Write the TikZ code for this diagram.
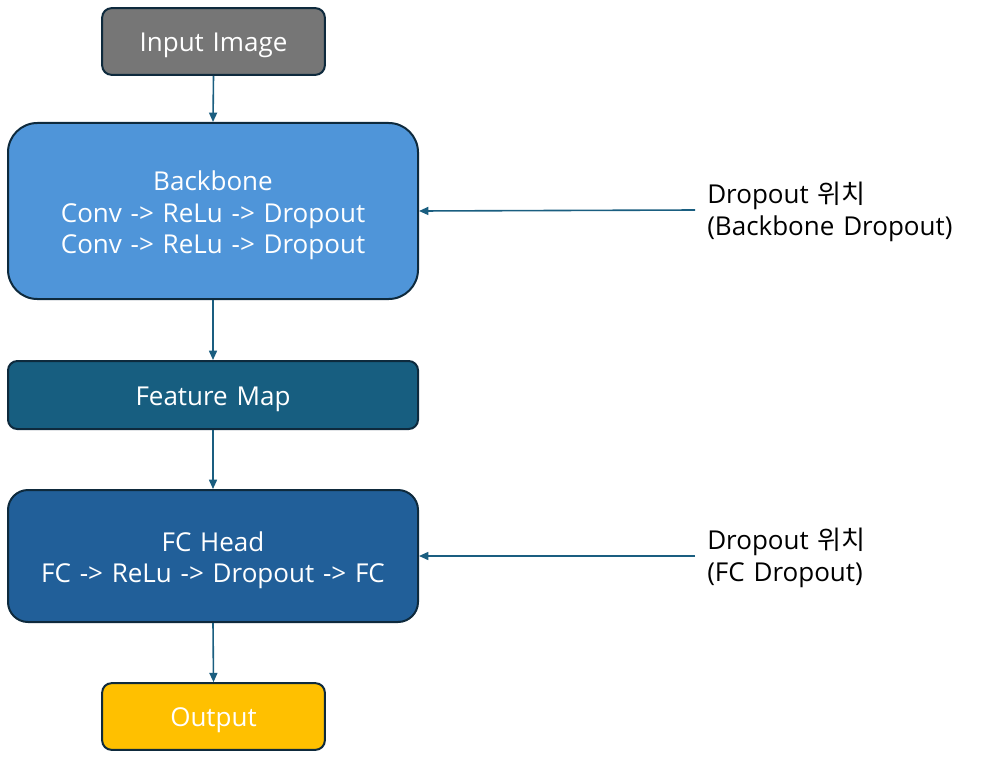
\documentclass[tikz,border=0pt]{standalone}
\usepackage{fontspec}
\setmainfont[WordSpace=1.3]{Open Sans}
\newfontfamily\kr{Noto Sans CJK KR}
\usetikzlibrary{arrows.meta}
\definecolor{bordc}{HTML}{0E2A3D}
\definecolor{arrc}{HTML}{1A5E80}
\definecolor{grayf}{HTML}{767676}
\definecolor{bbf}{HTML}{4F95D9}
\definecolor{fmf}{HTML}{175E80}
\definecolor{fcf}{HTML}{215F99}
\definecolor{outf}{HTML}{FFC000}
\tikzset{
  blk/.style={draw=bordc, line width=1.5pt, inner sep=0pt},
  txt/.style={text=white, align=center, inner sep=0pt, font=\fontsize{19.5}{23.6}\selectfont},
  arr/.style={draw=arrc, line width=1.2pt, -{Triangle[length=7pt,width=6pt]}},
  lbl/.style={anchor=west, align=left, inner sep=0pt, font=\fontsize{19.5}{23.6}\selectfont}
}
\begin{document}
\begin{tikzpicture}[x=0.75pt,y=-0.75pt]
\useasboundingbox (0,0) rectangle (994,781);
\node[blk, fill=grayf, minimum width=167pt, minimum height=50pt, rounded corners=7pt] (inp) at (213.5,41.5) {};
\node[blk, fill=bbf, minimum width=307.5pt, minimum height=132pt, rounded corners=22pt] (bb) at (213,211) {};
\node[blk, fill=fmf, minimum width=307.5pt, minimum height=51pt, rounded corners=7pt] (fm) at (213,395) {};
\node[blk, fill=fcf, minimum width=307.5pt, minimum height=99pt, rounded corners=15pt] (fc) at (213,556) {};
\node[blk, fill=outf, minimum width=167pt, minimum height=50pt, rounded corners=7pt] (out) at (213.5,716.5) {};
\node[txt] (tinp) at (213.5,45) {Input Image};
\node[txt] (tbb) at (213,215.5) {Backbone\\Conv -> ReLu -> Dropout\\Conv -> ReLu -> Dropout};
\node[txt] (tfm) at (213,399) {Feature Map};
\node[txt] (tfc) at (213,560) {FC Head\\FC -> ReLu -> Dropout -> FC};
\node[txt] (tout) at (213.5,720) {Output};
\node[lbl] (l1) at (707,212) {Dropout {\kr 위치}\\(Backbone Dropout)};
\node[lbl] (l2) at (707,558) {Dropout {\kr 위치}\\(FC Dropout)};
\coordinate (s1) at (695,210);
\coordinate (s2) at (695,556);
\draw[arr] (inp.south) -- (bb.north);
\draw[arr] (bb.south) -- (fm.north);
\draw[arr] (fm.south) -- (fc.north);
\draw[arr] (fc.south) -- (out.north);
\draw[arr] (s1) -- (bb.east);
\draw[arr] (s2) -- (fc.east);
\end{tikzpicture}
\end{document}
